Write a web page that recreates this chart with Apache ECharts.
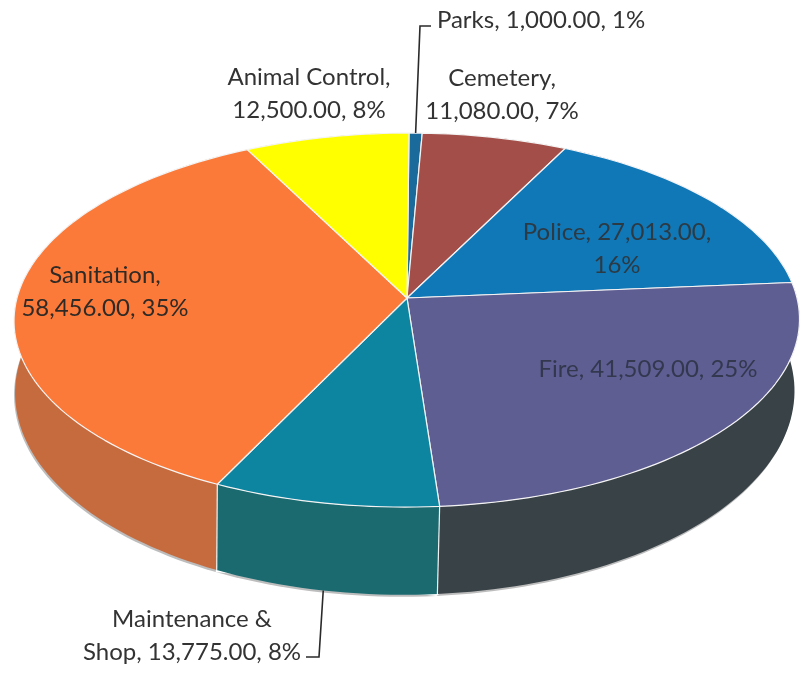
<!DOCTYPE html>
<html><head><meta charset="utf-8">
<style>html,body{margin:0;padding:0;background:#fff}#c{width:801px;height:679px}</style>
<script src="https://cdn.jsdelivr.net/npm/echarts@6/dist/echarts.min.js"></script>
</head><body><div id="c"></div>
<script>
const categories = ["Parks","Cemetery","Police","Fire","Maintenance & Shop","Sanitation","Animal Control"];
const values = [1000,11080,27013,41509,13775,58456,12500];
const lineBreakAfter = ["","Cemetery,","27,013.00,","","Maintenance &","Sanitation,","Animal Control,"];
const topColors = ["#1a6a9c","#a34e48","#1178b8","#5f5e92","#0e85a0","#fb7a3a","#ffff00"];
const rimColors = ["#14527a","#7d3b37","#0b5a8c","#394246","#1a6a70","#c66b3e","#c4c400"];
const labelColors = ["#333333","#333333","#2c3a44","#33384f","#333333","#2f2a26","#333333"];
const labelX = [541,502,617,648,192,105,309];
const labelY = [20,95,249,369,636,292,94];
const leaders = {0:[[420,26],[431,26]],4:[[319,657],[306,657]]};

const total = values.reduce((a,b)=>a+b,0);
const FS=24, LH=33;
const P={cx:407,cy:298,rx:390,k:0.118,ry:184.4,skew:2,cxB:405,cyB:368,rxB:387,ryB:200};
function proj(deg,bottom){
  const t=deg*Math.PI/180,u=Math.sin(t),v=-Math.cos(t),d=1-P.k*v;
  return bottom?[P.cxB+P.rxB*u/d-P.skew*v,P.cyB+P.ryB*v/d]
               :[P.cx+P.rx*u/d-P.skew*v,P.cy+P.ry*v/d];
}
function range(i){
  let s=0;for(let j=0;j<i;j++)s+=values[j];
  return [s/total*360,(s+values[i])/total*360];
}
function arc(a,b,bottom){
  const n=Math.max(2,Math.ceil((b-a)/1.5)),o=[];
  for(let i=0;i<=n;i++)o.push(proj(a+(b-a)*i/n,bottom));
  return o;
}
function labelText(i){
  const num=values[i].toLocaleString("en-US",{minimumFractionDigits:2,maximumFractionDigits:2});
  const pct=Math.round(values[i]/total*100)+"%";
  let s=categories[i]+", "+num+", "+pct;
  if(lineBreakAfter[i]) s=s.replace(lineBreakAfter[i]+" ",lineBreakAfter[i]+"\n");
  return s;
}
function seriesData(){return values.map((v,i)=>({name:categories[i],value:v}));}
const chart=echarts.init(document.getElementById("c"),null,{renderer:"canvas"});
chart.setOption({
  animation:false,backgroundColor:"#ffffff",
  series:[
    {type:"custom",coordinateSystem:"none",z:1,silent:true,data:seriesData(),
     renderItem(p){
       const [a,b]=range(p.dataIndex);
       return {type:"polygon",shape:{points:arc(a,b,true).map(q=>[q[0]-1,q[1]+2])},style:{fill:"#bdbdbd"}};
     }},
    {type:"custom",coordinateSystem:"none",z:2,silent:true,data:seriesData(),
     renderItem(p){
       const i=p.dataIndex,[a,b]=range(i);
       const top=arc(a,b,false),bot=arc(a,b,true).reverse();
       const kids=[{type:"polygon",shape:{points:top.concat(bot)},style:{fill:rimColors[i]}}];
       const v=-Math.cos(a*Math.PI/180);
       if(v>0.118){const s=proj(a,false),e=proj(a,true);
         kids.push({type:"line",shape:{x1:s[0],y1:s[1],x2:e[0],y2:e[1]},style:{stroke:"#eef2f2",lineWidth:1.2}});}
       return {type:"group",children:kids};
     }},
    {type:"custom",coordinateSystem:"none",z:3,silent:true,data:seriesData(),
     renderItem(p){
       const i=p.dataIndex,[a,b]=range(i);
       return {type:"polygon",shape:{points:[[P.cx,P.cy]].concat(arc(a,b,false))},
         style:{fill:topColors[i],stroke:"#f4f4f4",lineWidth:1.2,lineJoin:"round"}};
     }},
    {type:"custom",coordinateSystem:"none",z:4,silent:true,data:seriesData(),
     renderItem(p){
       const i=p.dataIndex,[a,b]=range(i),kids=[];
       kids.push({type:"text",style:{text:labelText(i),x:labelX[i],y:labelY[i],align:"center",verticalAlign:"middle",
         font:FS+'px Lato, sans-serif',lineHeight:LH,fill:labelColors[i]}});
       if(leaders[i]){
         const st=proj((a+b)/2,i===4);
         const pts=[st].concat(leaders[i]);
         kids.push({type:"polyline",shape:{points:pts},style:{stroke:"#2a2a2a",lineWidth:1.6,fill:null}});
       }
       return {type:"group",children:kids};
     }}
  ]
});
</script></body></html>
